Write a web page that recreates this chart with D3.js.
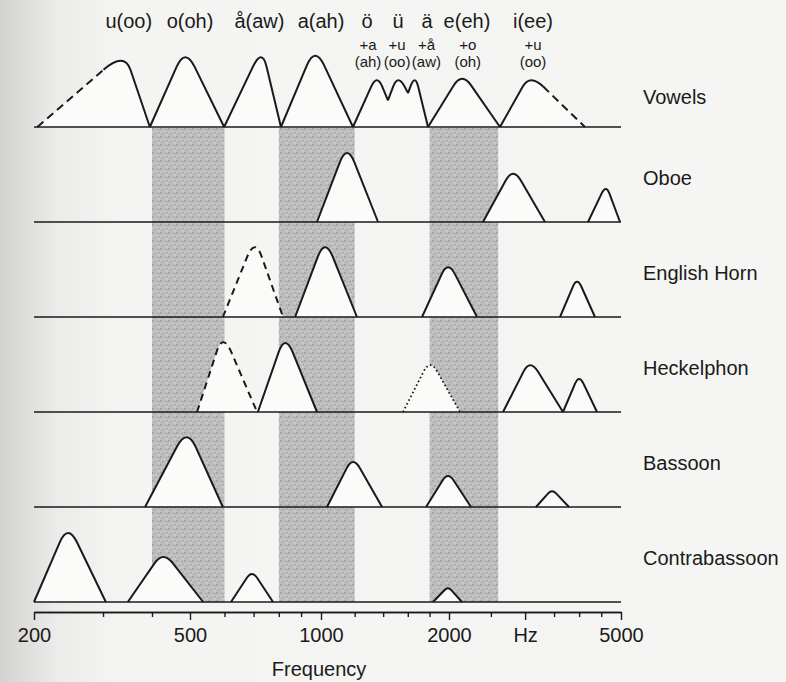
<!DOCTYPE html>
<html><head><meta charset="utf-8">
<script src="https://cdn.jsdelivr.net/npm/d3@7"></script>
<style>
body{margin:0;background:#f4f4f2;}
text{font-family:"Liberation Sans",Arial,Helvetica,sans-serif;fill:#1a1a1a;}
</style>
</head><body>
<svg id="chart" width="786" height="682"></svg>
<script>
// ---------------- DATA ----------------
const rowNames = ["Vowels","Oboe","English Horn","Heckelphon","Bassoon","Contrabassoon"];

// formant humps: lo / pk / hi in Hz, lvl = relative peak level (0-10),
// loLvl/hiLvl = level of the feet (0 = on baseline)
const vowelsHumps = [
  {lo:204,  pk:340,  hi:395,  lvl:9.2, style:"dashLeft"},
  {lo:395,  pk:486,  hi:599,  lvl:9.7},
  {lo:599,  pk:732,  hi:809,  lvl:9.7},
  {lo:809,  pk:969,  hi:1189, lvl:9.9},
  {lo:1189, pk:1354, hi:1437, lvl:6.5, hiLvl:3.7},
  {lo:1437, loLvl:3.7, pk:1517, hi:1602, lvl:6.5, hiLvl:4.7},
  {lo:1602, loLvl:4.7, pk:1664, hi:1785, lvl:6.5},
  {lo:1785, pk:2143, hi:2624, lvl:6.7},
  {lo:2624, pk:3079, hi:4127, lvl:6.5, style:"dashRight"}
];
const oboeHumps = [
  {lo:979,  pk:1151, hi:1362, lvl:9.6},
  {lo:2397, pk:2813, hi:3335, lvl:6.7},
  {lo:4194, pk:4616, hi:4974, lvl:4.6}
];
const englishHornHumps = [
  {lo:595,  pk:705,  hi:818,  lvl:9.7, style:"dashed"},
  {lo:872,  pk:1022, hi:1215, lvl:9.7},
  {lo:1728, pk:1989, hi:2322, lvl:6.9},
  {lo:3613, pk:3955, hi:4353, lvl:4.9}
];
const heckelphonHumps = [
  {lo:519,  pk:595,  hi:713,  lvl:9.7, style:"dashed"},
  {lo:716,  pk:827,  hi:979,  lvl:9.6},
  {lo:1559, pk:1805, hi:2121, lvl:6.5, style:"dotted"},
  {lo:2667, pk:3079, hi:3671, lvl:6.5},
  {lo:3671, pk:3998, hi:4400, lvl:4.6}
];
const bassoonHumps = [
  {lo:384,  pk:491,  hi:595,  lvl:9.7},
  {lo:1033, pk:1189, hi:1392, lvl:6.25},
  {lo:1766, pk:1989, hi:2249, lvl:4.3},
  {lo:3179, pk:3462, hi:3790, lvl:2.2}
];
const contrabassoonHumps = [
  {lo:200,  pk:244,  hi:305,  lvl:9.6},
  {lo:347,  pk:427,  hi:536,  lvl:6.25},
  {lo:621,  pk:694,  hi:776,  lvl:3.9},
  {lo:1834, pk:1989, hi:2143, lvl:1.9}
];
const rowHumps = [vowelsHumps, oboeHumps, englishHornHumps, heckelphonHumps, bassoonHumps, contrabassoonHumps];

// shaded formant regions (Hz)
const bandLo = [400, 800, 1800];
const bandHi = [600, 1200, 2600];

// vowel labels
const vowelNames = ["u(oo)","o(oh)","å(aw)","a(ah)","ö","ü","ä","e(eh)","i(ee)"];
const vowelLabelHz = [349, 500, 722, 1000, 1283, 1517, 1775, 2201, 3129];
const mixPlus  = ["+a","+u","+å","+o","+u"];
const mixParen = ["(ah)","(oo)","(aw)","(oh)","(oo)"];
const mixHz    = [1290, 1510, 1770, 2210, 3129];

// axis ticks
const majorTicks = [200, 500, 1000, 2000, 3000, 5000];
const majorTickLabels = ["200","500","1000","2000","Hz","5000"];
const minorTicks = [300,400,600,700,800,900,1200,1400,1600,1800,2500,3500,4000,4500];

// ---------------- DRAWING ----------------
const svg = d3.select("#chart");
const W = 786, H = 682;

const defs = svg.append("defs");
const grad = defs.append("linearGradient").attr("id","edge").attr("x1",0).attr("x2",1).attr("y1",0).attr("y2",0);
grad.append("stop").attr("offset","0").attr("stop-color","#d2d2d0");
grad.append("stop").attr("offset","0.07").attr("stop-color","#ebebe9");
grad.append("stop").attr("offset","0.15").attr("stop-color","#f4f4f2");
grad.append("stop").attr("offset","1").attr("stop-color","#f5f5f3");
svg.append("rect").attr("width",W).attr("height",H).attr("fill","url(#edge)");

// stipple pattern
const pat = defs.append("pattern").attr("id","stipple").attr("patternUnits","userSpaceOnUse")
  .attr("width",8).attr("height",8);
pat.append("rect").attr("width",8).attr("height",8).attr("fill","#bcbcbc");
[[0,0,"#a0a0a0"],[4,2,"#d2d2d2"],[2,5,"#a6a6a6"],[6,6,"#d4d4d4"],[5,1,"#aaaaaa"],[1,3,"#cdcdcd"],[7,4,"#a8a8a8"],[3,7,"#cacaca"]]
  .forEach(([x,y,c]) => pat.append("rect").attr("x",x).attr("y",y).attr("width",1.6).attr("height",1.6).attr("fill",c));

const x = d3.scaleLog().domain([200, 500, 1000, 2000, 5000]).range([34, 190, 321, 449, 621]);
const yRow = d3.scalePoint().domain(rowNames).range([127, 602]);
const k = 7.2;  // px per level unit
const t = 0.76; // shoulder fraction

svg.append("g").selectAll("rect").data(bandLo).join("rect")
  .attr("x", d => x(d)).attr("width", (d,i) => x(bandHi[i]) - x(d))
  .attr("y", yRow("Vowels") + 1).attr("height", yRow("Contrabassoon") - yRow("Vowels") - 1)
  .attr("fill","url(#stipple)");

const ink = "#1a1a1a";

function geom(h, yb){
  const lL = h.loLvl||0, lR = h.hiLvl||0;
  const xL = x(h.lo), yL = yb - k*lL;
  const xR = x(h.hi), yR = yb - k*lR;
  const xP = x(h.pk);
  const Ha = 2*h.lvl/(1+t);
  const yA = yb - k*Ha;
  const ys = yb - k*t*Ha;
  const sL = [xL + (xP-xL)*((t*Ha - lL)/(Ha - lL)), ys];
  const sR = [xR + (xP-xR)*((t*Ha - lR)/(Ha - lR)), ys];
  return {xL,yL,xR,yR,xP,yA,sL,sR};
}

rowNames.forEach((name, ri) => {
  const yb = yRow(name);
  const g = svg.append("g");
  const humps = rowHumps[ri];
  g.selectAll("path.fill").data(humps).join("path").attr("class","fill")
    .attr("d", h => {
      const q = geom(h, yb);
      return `M${q.xL},${yb}L${q.xL},${q.yL}L${q.sL[0]},${q.sL[1]}Q${q.xP},${q.yA} ${q.sR[0]},${q.sR[1]}L${q.xR},${q.yR}L${q.xR},${yb}Z`;
    }).attr("fill","#fbfbfa").attr("stroke","none");
  g.append("line").attr("x1", x(200)).attr("x2", x(5000)).attr("y1", yb).attr("y2", yb)
    .attr("stroke", ink).attr("stroke-width", 1.7);
  humps.forEach(h => {
    const q = geom(h, yb);
    const left = `M${q.xL},${q.yL}L${q.sL[0]},${q.sL[1]}`;
    const right = `M${q.sR[0]},${q.sR[1]}L${q.xR},${q.yR}`;
    const topC = `Q${q.xP},${q.yA} ${q.sR[0]},${q.sR[1]}`;
    const full = `M${q.xL},${q.yL}L${q.sL[0]},${q.sL[1]}${topC}L${q.xR},${q.yR}`;
    const style = h.style || "solid";
    const seg = (d, dash, w) => g.append("path").attr("d", d).attr("fill","none").attr("stroke", ink)
      .attr("stroke-width", w||2).attr("stroke-linejoin","round").attr("stroke-dasharray", dash||null);
    if (style === "solid") seg(full);
    else if (style === "dashed") seg(full, "7,5");
    else if (style === "dotted") seg(full, "1.6,2.6", 1.8);
    else if (style === "dashLeft") { seg(left, "8,5"); seg(`M${q.sL[0]},${q.sL[1]}${topC}L${q.xR},${q.yR}`); }
    else if (style === "dashRight") { seg(`M${q.xL},${q.yL}L${q.sL[0]},${q.sL[1]}${topC}`); seg(right, "8,5"); }
  });
  svg.append("text").attr("x", 643).attr("y", yb - (ri === 0 ? 23 : 37))
    .attr("font-size", 20).text(name);
});

svg.append("g").selectAll("text").data(vowelNames).join("text")
  .attr("x", (d,i) => x(vowelLabelHz[i])).attr("y", 28)
  .attr("text-anchor","middle").attr("font-size", 20).text(d => d);
svg.append("g").selectAll("text").data(mixPlus).join("text")
  .attr("x", (d,i) => x(mixHz[i])).attr("y", 50)
  .attr("text-anchor","middle").attr("font-size", 15).text(d => d);
svg.append("g").selectAll("text").data(mixParen).join("text")
  .attr("x", (d,i) => x(mixHz[i])).attr("y", 67)
  .attr("text-anchor","middle").attr("font-size", 15).text(d => d);

const axisY = 612;
const minorAxis = d3.axisBottom(x).tickValues(minorTicks).tickSize(5).tickFormat("").tickSizeOuter(0);
const majorAxis = d3.axisBottom(x).tickValues(majorTicks).tickSize(8).tickPadding(8).tickSizeOuter(0)
  .tickFormat((d,i) => majorTickLabels[i]);
const ga = svg.append("g").attr("transform", `translate(0,${axisY})`).call(minorAxis);
const gb = svg.append("g").attr("transform", `translate(0,${axisY})`).call(majorAxis);
[ga, gb].forEach(g => {
  g.select(".domain").attr("stroke", ink).attr("stroke-width", 1.6);
  g.selectAll(".tick line").attr("stroke", ink).attr("stroke-width", 1.4);
  g.selectAll(".tick text").attr("font-size", 20).attr("fill", ink)
    .attr("font-family", '"Liberation Sans",Arial,sans-serif');
});
svg.append("text").attr("x", x(990)).attr("y", 676).attr("text-anchor","middle")
  .attr("font-size", 20).text("Frequency");
</script>
</body></html>
